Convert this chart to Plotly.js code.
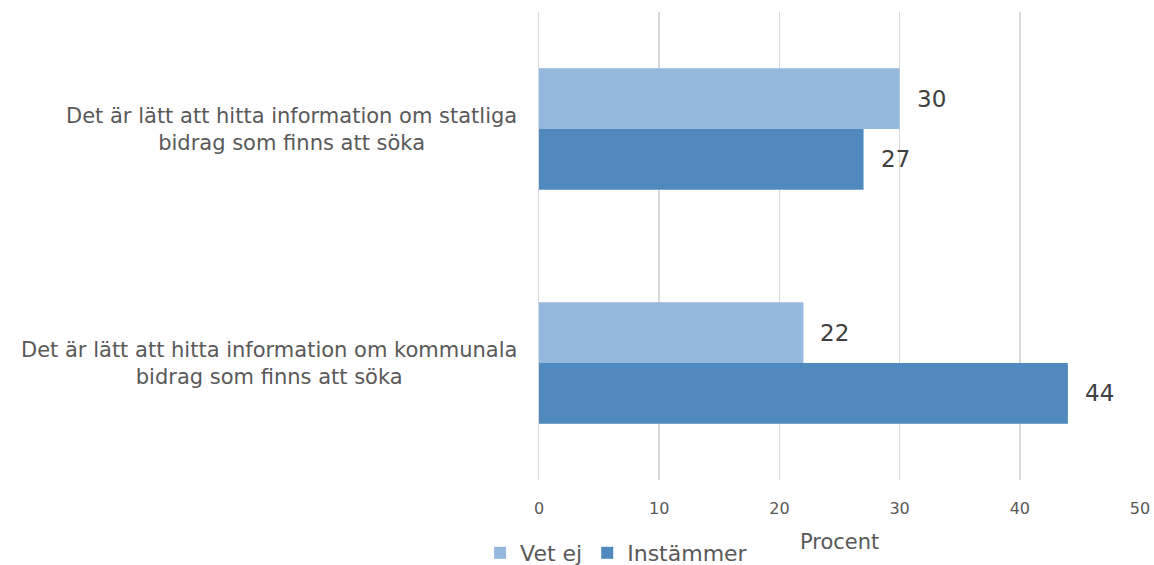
<!DOCTYPE html>
<html>
<head>
<meta charset="utf-8">
<script src="https://cdn.plot.ly/plotly-3.0.1.min.js"></script>
<style>html,body{margin:0;padding:0;background:#fff;}#chart{width:1154px;height:565px;}</style>
</head>
<body>
<div id="chart"></div>
<script>
const categories = [
  "Det är lätt att hitta information om statliga<br>bidrag som finns att söka",
  "Det är lätt att hitta information om kommunala<br>bidrag som finns att söka"
];
const seriesNames = ["Vet ej", "Instämmer"];
const vetEj = [30, 22];
const instammer = [27, 44];
const xTicks = [0, 10, 20, 30, 40, 50];
const xTitle = "Procent";

const colors = ["#95B8DF", "#4F89BD"];
const font = "DejaVu Sans, Verdana, sans-serif";
const bargap = 0.48;

const series = [vetEj, instammer];
const traces = series.map((vals, i) => ({
  type: "bar",
  orientation: "h",
  name: seriesNames[i],
  x: vals,
  y: categories,
  marker: { color: colors[i] },
  hoverinfo: "x"
}));

const barW = (1 - bargap) / series.length;
const annotations = [];
series.forEach((vals, i) => {
  const off = -(1 - bargap) / 2 + barW * (i + 0.5);
  vals.forEach((v, j) => {
    annotations.push({
      x: v, y: j + off, xref: "x", yref: "y",
      text: String(v), showarrow: false,
      xanchor: "left", yanchor: "middle", xshift: 15,
      font: { family: font, size: 23, color: "#404040" }
    });
  });
});
categories.forEach((c, j) => {
  annotations.push({
    x: 0, y: j, xref: "paper", yref: "y",
    text: c, showarrow: false, align: "center",
    xanchor: "right", yanchor: "middle", xshift: -20,
    font: { family: font, size: 21, color: "#595959" }
  });
});
annotations.push({
  x: 0.5, y: 0, xref: "paper", yref: "paper",
  text: xTitle, showarrow: false,
  xanchor: "center", yanchor: "top", yshift: -48,
  font: { family: font, size: 21, color: "#595959" }
});

const layout = {
  width: 1154, height: 565,
  margin: { l: 539, r: 14, t: 12, b: 85, autoexpand: false },
  paper_bgcolor: "#fff", plot_bgcolor: "#fff",
  barmode: "group", bargap: bargap, bargroupgap: 0,
  font: { family: font, color: "#595959" },
  xaxis: {
    range: [0, 50], tickvals: xTicks, ticktext: xTicks.map(String),
    showgrid: true, gridcolor: "#D9D9D9", gridwidth: 1.5,
    zeroline: false, showline: false, ticks: "",
    ticklabelstandoff: 17,
    tickfont: { family: font, size: 16, color: "#595959" },
    fixedrange: true
  },
  yaxis: {
    type: "category", autorange: "reversed",
    showticklabels: false, showgrid: false, zeroline: false,
    showline: true, linecolor: "#D9D9D9", linewidth: 1.5, ticks: "",
    fixedrange: true
  },
  showlegend: true,
  legend: {
    orientation: "h", xref: "container", yref: "paper",
    x: 0.416, y: -0.156, xanchor: "left", yanchor: "middle",
    traceorder: "normal", itemwidth: 30,
    font: { family: font, size: 22, color: "#595959" },
    bgcolor: "rgba(0,0,0,0)"
  },
  annotations: annotations
};

Plotly.newPlot("chart", traces, layout, { displayModeBar: false, staticPlot: true });
</script>
</body>
</html>
